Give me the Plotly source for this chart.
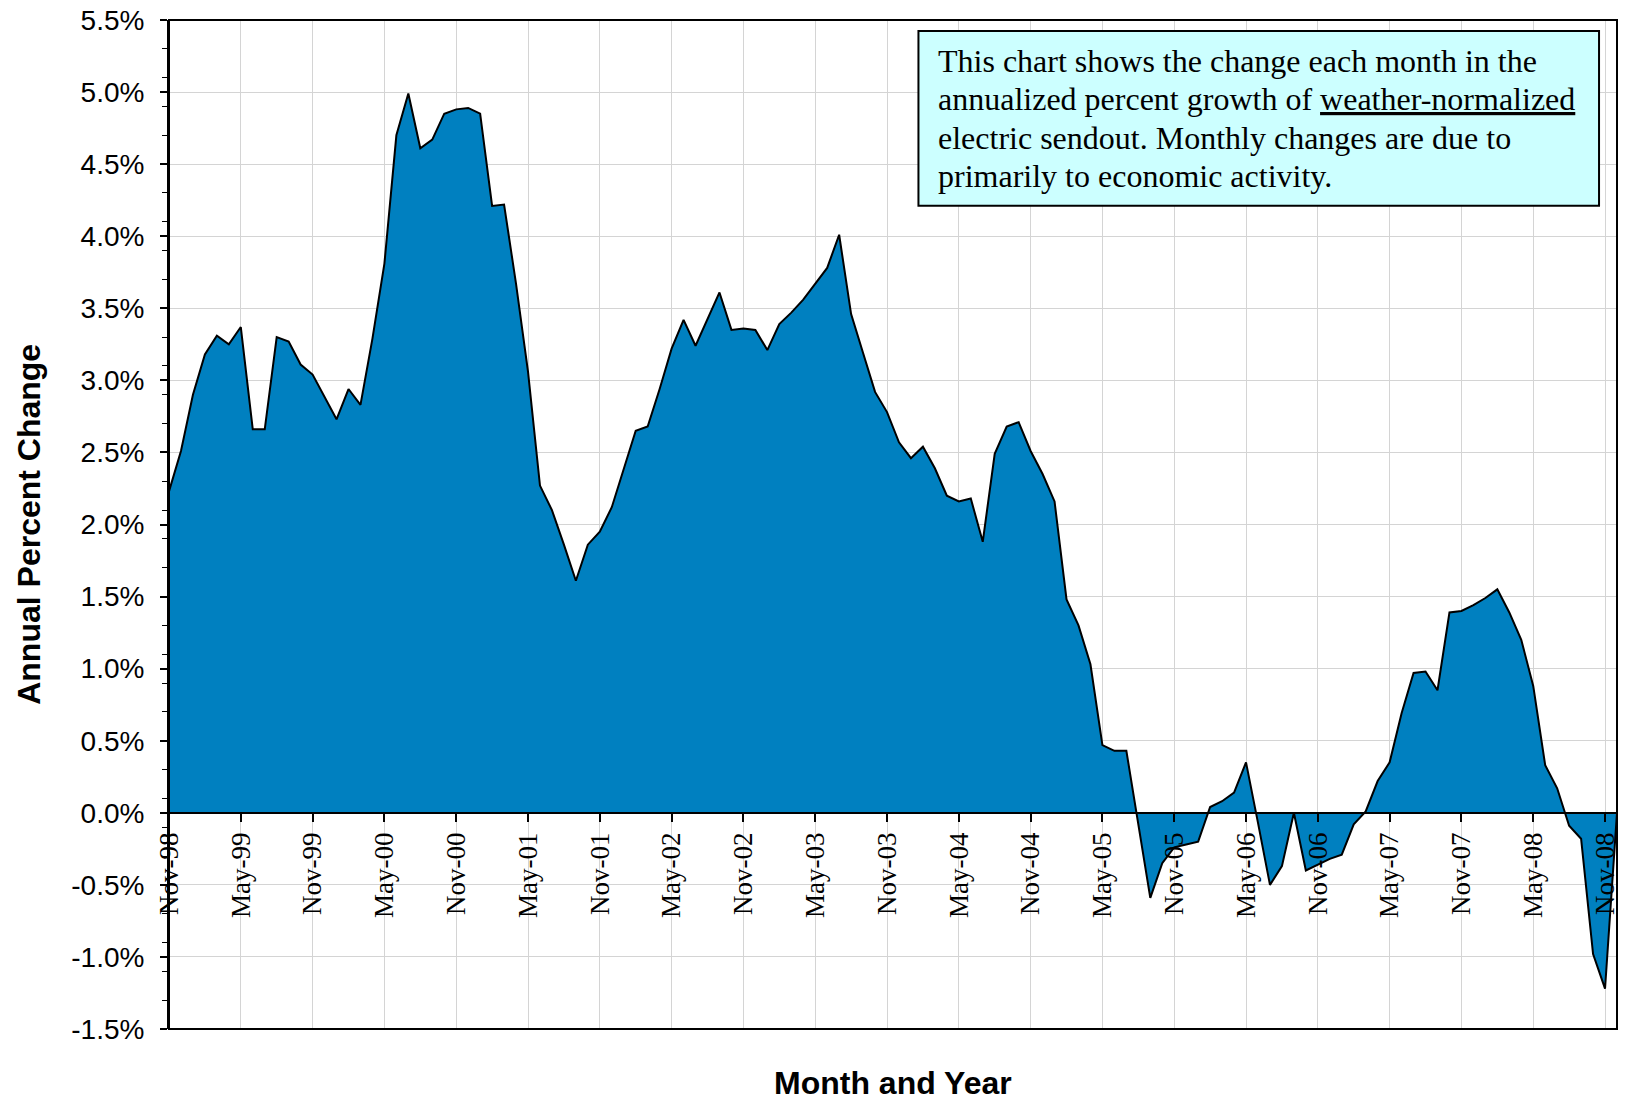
import pandas as pd
import plotly.graph_objects as go

# ---------------- data ----------------
months = pd.date_range("1998-11-01", "2008-12-01", freq="MS")
month_labels = [d.strftime("%b-%y") for d in months]

growth_pct = [
    2.23, 2.51, 2.90, 3.18, 3.31, 3.25, 3.37, 2.66, 2.66, 3.30,
    3.27, 3.11, 3.04, 2.89, 2.73, 2.94, 2.83, 3.29, 3.81, 4.70,
    4.99, 4.61, 4.67, 4.85, 4.88, 4.89, 4.85, 4.21, 4.22, 3.67,
    3.06, 2.27, 2.10, 1.86, 1.61, 1.86, 1.95, 2.12, 2.39, 2.65,
    2.68, 2.94, 3.22, 3.42, 3.24, 3.43, 3.61, 3.35, 3.36, 3.35,
    3.21, 3.39, 3.47, 3.56, 3.67, 3.78, 4.01, 3.46, 3.19, 2.92,
    2.78, 2.57, 2.46, 2.54, 2.39, 2.20, 2.16, 2.18, 1.88, 2.49,
    2.68, 2.71, 2.51, 2.35, 2.16, 1.48, 1.30, 1.03, 0.47, 0.43,
    0.43, -0.07, -0.59, -0.35, -0.24, -0.22, -0.20, 0.04, 0.08, 0.14,
    0.35, -0.07, -0.50, -0.37, 0.00, -0.40, -0.36, -0.32, -0.29, -0.08,
    0.01, 0.22, 0.35, 0.69, 0.97, 0.98, 0.85, 1.39, 1.40, 1.44,
    1.49, 1.55, 1.39, 1.20, 0.88, 0.33, 0.17, -0.09, -0.18, -0.98,
    -1.22, 0.00,
]

x_tick_labels = ["Nov-98", "May-99", "Nov-99", "May-00", "Nov-00", "May-01",
                 "Nov-01", "May-02", "Nov-02", "May-03", "Nov-03", "May-04",
                 "Nov-04", "May-05", "Nov-05", "May-06", "Nov-06", "May-07",
                 "Nov-07", "May-08", "Nov-08"]

y_tick_values = [-1.5, -1.0, -0.5, 0.0, 0.5, 1.0, 1.5, 2.0, 2.5, 3.0,
                 3.5, 4.0, 4.5, 5.0, 5.5]
y_tick_labels = ["-1.5%", "-1.0%", "-0.5%", "0.0%", "0.5%", "1.0%", "1.5%",
                 "2.0%", "2.5%", "3.0%", "3.5%", "4.0%", "4.5%", "5.0%", "5.5%"]

note_lines = [
    "This chart shows the change each month in the",
    "annualized percent growth of <u>weather-normalized</u>",
    "electric sendout. Monthly changes are due to",
    "primarily to economic activity.",
]

# ---------------- layout geometry (pixels) ----------------
W, H = 1625, 1100
L, R, T, B = 169, 1620, 18, 1029
PW, PH = R - L, B - T
Y_MIN, Y_MAX = -1.5, 5.5


def px_x(x):
    return (x - L) / PW


def px_y(y):
    return (B - y) / PH


SERIF = "Liberation Serif, Times New Roman, serif"
SANS = "Liberation Sans, Arial, sans-serif"

fig = go.Figure()
fig.add_trace(go.Scatter(
    x=month_labels, y=growth_pct, mode="lines",
    fill="tozeroy", fillcolor="#0080C0",
    line=dict(color="black", width=2),
    showlegend=False, hoverinfo="x+y",
))

note_annotations = []
line_y0, line_step = 59, 38.4
for i, line in enumerate(note_lines):
    note_annotations.append(dict(
        text=line, xref="paper", yref="paper",
        x=px_x(938), y=px_y(line_y0 + i * line_step),
        xanchor="left", yanchor="middle", align="left", showarrow=False,
        font=dict(family=SERIF, size=32, color="black")))

fig.update_layout(
    width=W, height=H, autosize=False,
    margin=dict(l=L, r=W - R, t=T, b=H - B, pad=0),
    paper_bgcolor="white", plot_bgcolor="white",
    xaxis=dict(
        type="category",
        categoryorder="array", categoryarray=month_labels,
        range=[0, len(month_labels) - 1],
        tickmode="array", tickvals=x_tick_labels, ticktext=x_tick_labels,
        tickangle=-90,
        tickfont=dict(family=SERIF, size=27, color="black"),
        ticks="outside", ticklen=8, tickwidth=1.5, tickcolor="black",
        showgrid=True, gridcolor="#d4d4d4", gridwidth=1.3,
        anchor="free", position=(0 - Y_MIN) / (Y_MAX - Y_MIN),
        showline=True, linecolor="black", linewidth=2,
        zeroline=False, layer="above traces",
    ),
    yaxis=dict(
        range=[Y_MIN, Y_MAX],
        tickmode="array", tickvals=y_tick_values, ticktext=y_tick_labels,
        tickfont=dict(family=SANS, size=28, color="black"),
        ticks="outside", ticklen=7, tickwidth=1.5, tickcolor="black",
        ticklabelstandoff=10,
        minor=dict(tickmode="linear", tick0=0.1, dtick=0.2, ticks="outside",
                   ticklen=5, tickwidth=1.2, tickcolor="black", showgrid=False),
        showgrid=True, gridcolor="#d4d4d4", gridwidth=1.3,
        showline=True, linecolor="black", linewidth=2,
        zeroline=False,
    ),
    shapes=[
        dict(type="rect", xref="paper", yref="paper", x0=0, x1=1, y0=0, y1=1,
             line=dict(color="black", width=2), fillcolor="rgba(0,0,0,0)",
             layer="above"),
        dict(type="rect", xref="paper", yref="paper",
             x0=px_x(920), x1=px_x(1602), y0=px_y(204), y1=px_y(29),
             line=dict(color="black", width=2), fillcolor="#CCFFFF",
             layer="above"),
    ],
    annotations=note_annotations + [
        dict(text="<b>Annual Percent Change</b>", xref="paper", yref="paper",
             x=px_x(28), y=0.5, xanchor="center", yanchor="middle",
             textangle=-90, showarrow=False,
             font=dict(family=SANS, size=32, color="black")),
        dict(text="<b>Month and Year</b>", xref="paper", yref="paper",
             x=0.5, y=px_y(1083), xanchor="center", yanchor="middle",
             showarrow=False,
             font=dict(family=SANS, size=32, color="black")),
    ],
)

fig.write_html("out.html",
               config={"displayModeBar": False},
               post_script="document.body.style.margin='0';"
                           "document.body.style.padding='0';")
